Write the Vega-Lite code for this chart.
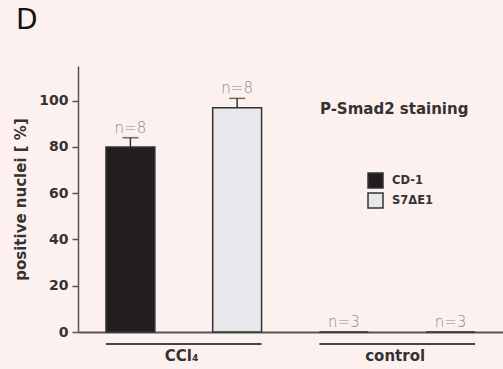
{
  "$schema": "https://vega.github.io/schema/vega-lite/v6.json",
  "width": 425,
  "height": 266,
  "autosize": {"type": "none"},
  "padding": {"left": 78, "top": 66, "right": 0, "bottom": 37},
  "background": "#fdf1f0",
  "title": {"text": "D", "anchor": "start", "frame": "group", "fontSize": 28, "fontWeight": "normal", "font": "DejaVu Sans", "color": "#111111", "dx": -62, "offset": 31},
  "config": {
    "view": {"stroke": null},
    "font": "DejaVu Sans"
  },
  "datasets": {
    "bars": [
      {"key": "CCl4 CD-1", "strain": "CD-1", "value": 80, "err": 4, "n": "n=8"},
      {"key": "CCl4 S7", "strain": "S7ΔE1", "value": 97, "err": 4, "n": "n=8"},
      {"key": "control CD-1", "strain": "CD-1", "value": 0, "err": 0, "n": "n=3"},
      {"key": "control S7", "strain": "S7ΔE1", "value": 0, "err": 0, "n": "n=3"}
    ],
    "groups": [
      {"group": "CCl₄", "start": "CCl4 CD-1", "end": "CCl4 S7"},
      {"group": "control", "start": "control CD-1", "end": "control S7"}
    ]
  },
  "layer": [
    {
      "data": {"name": "bars"},
      "transform": [{"filter": "datum.err > 0"}, {"calculate": "datum.value + datum.err", "as": "upper"}],
      "mark": {"type": "rule", "color": "#333333", "strokeWidth": 1.5},
      "encoding": {
        "x": {"field": "key", "type": "nominal"},
        "y": {"field": "value", "type": "quantitative"},
        "y2": {"field": "upper"}
      }
    },
    {
      "data": {"name": "bars"},
      "transform": [{"filter": "datum.err > 0"}, {"calculate": "datum.value + datum.err", "as": "upper"}],
      "mark": {"type": "tick", "color": "#333333", "thickness": 1.5, "size": 16, "orient": "horizontal"},
      "encoding": {
        "x": {"field": "key", "type": "nominal"},
        "y": {"field": "upper", "type": "quantitative"}
      }
    },
    {
      "data": {"name": "bars"},
      "mark": {"type": "bar", "stroke": "#333333", "strokeWidth": 1.5},
      "encoding": {
        "x": {
          "field": "key", "type": "nominal",
          "sort": ["CCl4 CD-1", "CCl4 S7", "control CD-1", "control S7"],
          "scale": {"domain": ["CCl4 CD-1", "CCl4 S7", "control CD-1", "control S7"], "paddingInner": 0.542, "paddingOuter": 0.262},
          "axis": {"labels": false, "ticks": false, "title": null, "domainColor": "#555555", "domainWidth": 2}
        },
        "y": {
          "field": "value", "type": "quantitative",
          "scale": {"domain": [0, 115], "nice": false},
          "axis": {
            "values": [0, 20, 40, 60, 80, 100],
            "grid": false,
            "title": "positive nuclei [ %]",
            "titleFont": "DejaVu Sans", "titleFontSize": 15, "titleFontWeight": "bold", "titleColor": "#333333",
            "titlePadding": 10,
            "labelFont": "DejaVu Sans", "labelFontSize": 14, "labelFontWeight": "bold", "labelColor": "#333333",
            "labelPadding": 4,
            "tickSize": 6, "tickColor": "#555555", "tickWidth": 1.5,
            "domainColor": "#555555", "domainWidth": 1.5
          }
        },
        "fill": {
          "field": "strain", "type": "nominal",
          "scale": {"domain": ["CD-1", "S7ΔE1"], "range": ["#221e1f", "#e8e8ec"]},
          "legend": {
            "title": null,
            "orient": "none",
            "legendX": 289,
            "legendY": 106,
            "symbolType": "square",
            "symbolSize": 225,
            "symbolStrokeColor": "#333333",
            "symbolStrokeWidth": 1.5,
            "rowPadding": -1,
            "labelOffset": 8,
            "labelFont": "DejaVu Sans",
            "labelFontSize": 11.5,
            "labelFontWeight": "bold",
            "labelColor": "#333333"
          }
        }
      }
    },
    {
      "data": {"name": "bars"},
      "transform": [{"calculate": "datum.value + datum.err", "as": "upper"}],
      "mark": {"type": "text", "font": "DejaVu Sans", "fontSize": 15, "fontWeight": 200, "color": "#8a8a8a", "baseline": "alphabetic", "dy": -5},
      "encoding": {
        "x": {"field": "key", "type": "nominal"},
        "y": {"field": "upper", "type": "quantitative"},
        "text": {"field": "n"}
      }
    },
    {
      "data": {"name": "groups"},
      "mark": {"type": "rule", "color": "#444444", "strokeWidth": 2},
      "encoding": {
        "x": {"field": "start", "type": "nominal", "bandPosition": 0},
        "x2": {"field": "end", "bandPosition": 1},
        "y": {"datum": -5.2}
      }
    },
    {
      "data": {"name": "groups"},
      "mark": {"type": "text", "font": "DejaVu Sans", "fontSize": 15, "fontWeight": "bold", "color": "#333333", "baseline": "alphabetic", "dx": -31},
      "encoding": {
        "x": {"field": "end", "type": "nominal", "bandPosition": 0},
        "y": {"datum": -12.6},
        "text": {"field": "group"}
      }
    },
    {
      "data": {"values": [{"label": "P-Smad2 staining"}]},
      "mark": {"type": "text", "font": "DejaVu Sans", "fontSize": 15, "fontWeight": "bold", "color": "#333333", "baseline": "middle", "dx": -32},
      "encoding": {
        "x": {"datum": "control S7", "bandPosition": 0},
        "y": {"datum": 96.5},
        "text": {"field": "label"}
      }
    }
  ]
}
